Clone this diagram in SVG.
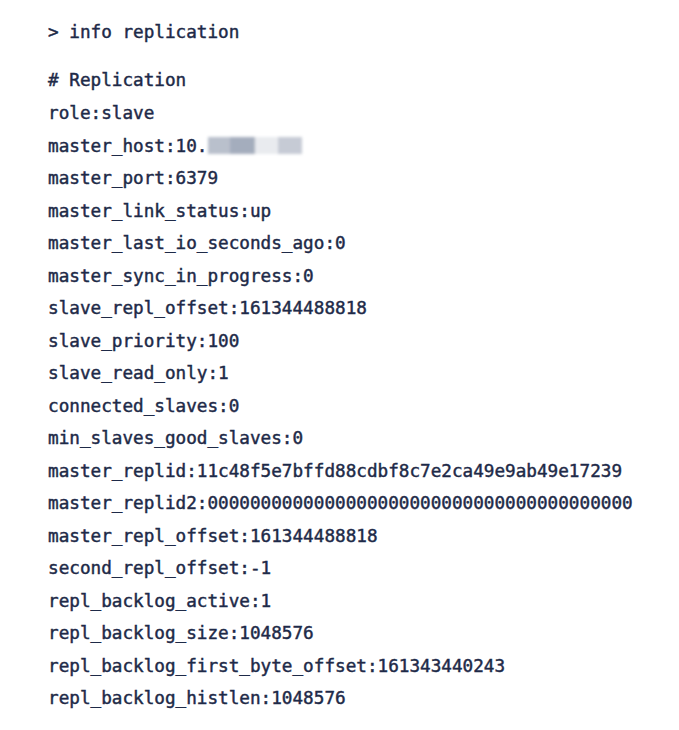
<svg xmlns="http://www.w3.org/2000/svg" width="679" height="730" viewBox="0 0 679 730">
<defs>
<style>
.t{font-family:"DejaVu Sans Mono","Liberation Mono",monospace;font-size:17.67px;fill:#1e2a48;stroke:#1e2a48;stroke-width:0.45px;}
</style>
<filter id="bl" x="-10%" y="-30%" width="120%" height="160%"><feGaussianBlur stdDeviation="1.5"/></filter>
</defs>
<rect width="679" height="730" fill="#ffffff"/>
<g id="output">
<text class="t" x="48" y="38">&gt; info replication</text>
<text class="t" x="48" y="86"># Replication</text>
<text class="t" x="48" y="119">role:slave</text>
<text class="t" x="48" y="151.5">master_host:10.</text>
<text class="t" x="48" y="184">master_port:6379</text>
<text class="t" x="48" y="216.5">master_link_status:up</text>
<text class="t" x="48" y="249">master_last_io_seconds_ago:0</text>
<text class="t" x="48" y="281.5">master_sync_in_progress:0</text>
<text class="t" x="48" y="314">slave_repl_offset:161344488818</text>
<text class="t" x="48" y="346.5">slave_priority:100</text>
<text class="t" x="48" y="379">slave_read_only:1</text>
<text class="t" x="48" y="411.5">connected_slaves:0</text>
<text class="t" x="48" y="444">min_slaves_good_slaves:0</text>
<text class="t" x="48" y="476.5">master_replid:11c48f5e7bffd88cdbf8c7e2ca49e9ab49e17239</text>
<text class="t" x="48" y="509">master_replid2:0000000000000000000000000000000000000000</text>
<text class="t" x="48" y="541.5">master_repl_offset:161344488818</text>
<text class="t" x="48" y="574">second_repl_offset:-1</text>
<text class="t" x="48" y="606.5">repl_backlog_active:1</text>
<text class="t" x="48" y="639">repl_backlog_size:1048576</text>
<text class="t" x="48" y="671.5">repl_backlog_first_byte_offset:161343440243</text>
<text class="t" x="48" y="704">repl_backlog_histlen:1048576</text>
</g>
<g id="mask" filter="url(#bl)">
<rect x="208" y="137" width="23" height="17" fill="#b9c0cc"/>
<rect x="230" y="137" width="26" height="17" fill="#a4adbd"/>
<rect x="255" y="137" width="24" height="17" fill="#e9ebef"/>
<rect x="278" y="137" width="24" height="17" fill="#c6cbd5"/>
</g>
</svg>
